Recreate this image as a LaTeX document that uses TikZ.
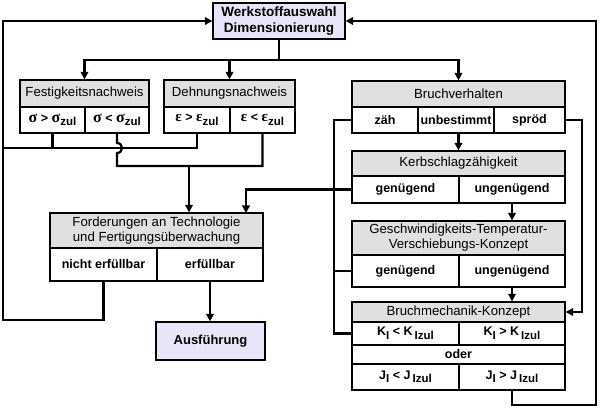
\documentclass[tikz,border=0pt]{standalone}
\usepackage{fontspec}
\setmainfont{Liberation Sans}
\newfontfamily\grk{Liberation Serif}
\usetikzlibrary{arrows.meta}
\definecolor{headgray}{HTML}{E0E0E0}
\definecolor{lav}{HTML}{E6E6F8}
\newcommand\lowsub[1]{\raisebox{-3.5pt}{\fontsize{11.5}{11.5}\selectfont\bfseries #1}}
\newcommand\sg{{\grk\fontsize{16}{16}\selectfont σ}}
\newcommand\ep{{\grk\fontsize{15}{15}\selectfont ε}}
\begin{document}
\begin{tikzpicture}[x=1pt,y=-1pt,
  box/.style={draw=black, line width=1.2pt, inner sep=0pt, align=center},
  head/.style={box, fill=headgray, font=\fontsize{13.2}{15}\selectfont},
  cellbox/.style={box, fill=white, font=\fontsize{12.5}{14}\selectfont\bfseries},
  mainbox/.style={box, fill=lav, font=\fontsize{13.5}{15.5}\selectfont\bfseries},
  conn/.style={line width=2.2pt},
  arr/.style={conn, -{Triangle[length=7.5pt,width=7.5pt]}}
]
\useasboundingbox (0,0) rectangle (600,419);
\fill[white] (0,0) rectangle (600,419);

% main boxes
\node[mainbox, minimum width=132pt, minimum height=36pt] (top) at (279,21) {Werkstoffauswahl\\Dimensionierung};
\node[mainbox, minimum width=109pt, minimum height=38pt, font=\fontsize{13}{15}\selectfont\bfseries] (aus) at (210.5,341) {Ausführung};

% Festigkeitsnachweis
\node[head, minimum width=129pt, minimum height=27pt] (fh) at (84.5,93.5) {Festigkeitsnachweis};
\node[cellbox, minimum width=65pt, minimum height=26pt] (s1) at (52.5,120) {\sg\ > \sg\lowsub{zul}};
\node[cellbox, minimum width=64pt, minimum height=26pt] (s2) at (117,120) {\sg\ < \sg\lowsub{zul}};

% Dehnungsnachweis
\node[head, minimum width=131pt, minimum height=27pt] (dh) at (229.5,93.5) {Dehnungsnachweis};
\node[cellbox, minimum width=66pt, minimum height=26pt] (e1) at (197,120) {\ep\ > \ep\lowsub{zul}};
\node[cellbox, minimum width=65pt, minimum height=26pt] (e2) at (262.5,120) {\ep\ < \ep\lowsub{zul}};

% Bruchverhalten
\node[head, minimum width=213pt, minimum height=26pt] (bh) at (458.5,94) {Bruchverhalten};
\node[cellbox, minimum width=66pt, minimum height=26pt] (zah) at (385,120) {zäh};
\node[cellbox, minimum width=76pt, minimum height=26pt] (unb) at (456,120) {unbestimmt};
\node[cellbox, minimum width=71pt, minimum height=26pt] (spr) at (529.5,120) {spröd};

% Kerbschlagzaehigkeit
\node[head, minimum width=213pt, minimum height=25pt] (kh) at (458.5,163.5) {Kerbschlagzähigkeit};
\node[cellbox, minimum width=107pt, minimum height=27pt] (kg) at (405.5,189.5) {genügend};
\node[cellbox, minimum width=106pt, minimum height=27pt] (ku) at (512,189.5) {ungenügend};

% GTV
\node[head, minimum width=213pt, minimum height=34pt] (gh) at (458.5,238) {Geschwindigkeits-Temperatur-\\Verschiebungs-Konzept};
\node[cellbox, minimum width=107pt, minimum height=32pt] (gg) at (405.5,271) {genügend};
\node[cellbox, minimum width=106pt, minimum height=32pt] (gu) at (512,271) {ungenügend};

% Bruchmechanik
\node[head, minimum width=213pt, minimum height=20pt] (bmh) at (458.5,312) {Bruchmechanik-Konzept};
\node[cellbox, minimum width=107pt, minimum height=23pt] (k1) at (405.5,333.5) {K\lowsub{I} < K\,\lowsub{Izul}};
\node[cellbox, minimum width=106pt, minimum height=23pt] (k2) at (512,333.5) {K\lowsub{I} > K\,\lowsub{Izul}};
\node[cellbox, minimum width=213pt, minimum height=19pt] (oder) at (458.5,354.5) {oder};
\node[cellbox, minimum width=107pt, minimum height=26pt] (j1) at (405.5,377) {J\lowsub{I} < J\,\lowsub{Izul}};
\node[cellbox, minimum width=106pt, minimum height=26pt] (j2) at (512,377) {J\lowsub{I} > J\,\lowsub{Izul}};

% Forderungen
\node[head, minimum width=213pt, minimum height=35pt] (ford) at (156.5,230.5) {Forderungen an Technologie\\und Fertigungsüberwachung};
\node[cellbox, minimum width=107pt, minimum height=33pt] (ne) at (103.5,264.5) {nicht erfüllbar};
\node[cellbox, minimum width=106pt, minimum height=33pt] (er) at (210,264.5) {erfüllbar};

% coordinates
\coordinate (j0) at (279,60);
\coordinate (L1) at (3,320);
\coordinate (L2) at (3,148);
\coordinate (M) at (189,166);
\coordinate (K) at (246,213);
\coordinate (Vt) at (334,120);
\coordinate (Vb) at (334,333.5);
\coordinate (R) at (582,312);
\coordinate (B) at (596,405);

% connectors
\draw[conn] (top.south) -- (j0);
\draw[arr] (j0) -| (fh.north);
\draw[arr] (j0) -| (dh.north);
\draw[arr] (j0) -| (bh.north);

\draw[arr] (ne.south) |- (L1) |- (top.west);
\draw[conn] (s1.south) |- (L2);
\draw[conn] (e1.south) |- (L2);
\draw[conn] (s2.south) -- (117,143) .. controls (123.7,143) and (123.7,153) .. (117,153) -- (117,166) -| (e2.south);
\draw[arr] (M) -- (M |- ford.north);

\draw[arr] (er.south) -- (er.south |- aus.north);
\draw[arr] (kg.west) -| (K);

\draw[conn] (zah.west) -- (Vt) -- (Vb) -- (k1.west);
\draw[conn] (gg.west) -- (gg.west -| Vt);

\draw[arr] (spr.east) -| (R) -- (bmh.east);
\draw[arr] (kh.north |- unb.south) -- (kh.north);
\draw[arr] (ku.south) -- (ku.south |- gh.north);
\draw[arr] (gu.south) -- (gu.south |- bmh.north);
\draw[arr] (j2.south) |- (B) |- (top.east);
\end{tikzpicture}
\end{document}
